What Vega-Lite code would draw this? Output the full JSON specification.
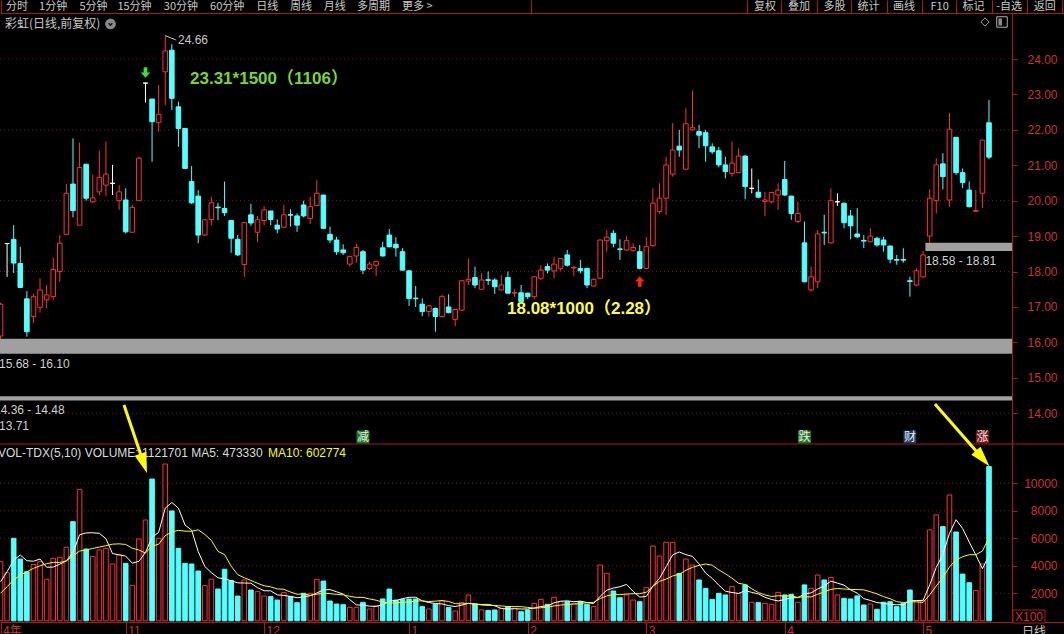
{
  "$schema": "https://vega.github.io/schema/vega-lite/v6.json",
  "width": 1064,
  "height": 609,
  "autosize": "none",
  "padding": {"left": 0, "top": 13, "right": 0, "bottom": 12},
  "background": "#000000",
  "config": {"view": {"stroke": null}, "font": "Liberation Sans"},
  "data": {"values": [{}]},
  "datasets": {
    "k": [
      {"i":0,"o":16.18,"h":17.12,"l":16.1,"c":17.08,"v":4300,"m5":2840,"m10":2000},
      {"i":1,"o":18.79,"h":18.79,"l":17.85,"c":18.79,"v":3500,"m5":3570,"m10":2480},
      {"i":2,"o":18.91,"h":19.31,"l":17.96,"c":18.24,"v":6000,"m5":4420,"m10":2967},
      {"i":3,"o":18.23,"h":18.7,"l":17.55,"c":17.55,"v":4490,"m5":4785,"m10":3330},
      {"i":4,"o":17.23,"h":17.45,"l":16.16,"c":16.3,"v":3570,"m5":4372,"m10":3570},
      {"i":5,"o":16.73,"h":17.37,"l":16.55,"c":17.29,"v":4100,"m5":4332,"m10":3815},
      {"i":6,"o":16.99,"h":17.81,"l":16.84,"c":17.48,"v":4300,"m5":4492,"m10":4000},
      {"i":7,"o":17.2,"h":17.62,"l":16.97,"c":17.34,"v":3020,"m5":3896,"m10":4150},
      {"i":8,"o":17.29,"h":18.39,"l":17.2,"c":18.06,"v":4550,"m5":3908,"m10":4250},
      {"i":9,"o":18.0,"h":19.03,"l":17.71,"c":18.8,"v":4620,"m5":4118,"m10":4245},
      {"i":10,"o":19.05,"h":20.47,"l":19.05,"c":20.21,"v":5350,"m5":4368,"m10":4350},
      {"i":11,"o":20.47,"h":21.76,"l":19.53,"c":19.72,"v":7210,"m5":4950,"m10":4721},
      {"i":12,"o":19.31,"h":21.64,"l":19.31,"c":20.94,"v":9560,"m5":6258,"m10":5077},
      {"i":13,"o":21.03,"h":21.03,"l":20.0,"c":20.07,"v":5220,"m5":6392,"m10":5150},
      {"i":14,"o":19.97,"h":20.73,"l":19.94,"c":20.08,"v":4670,"m5":6402,"m10":5260},
      {"i":15,"o":20.25,"h":21.41,"l":20.16,"c":20.66,"v":5150,"m5":6362,"m10":5365},
      {"i":16,"o":20.44,"h":21.67,"l":20.13,"c":20.75,"v":5270,"m5":5974,"m10":5462},
      {"i":17,"o":20.49,"h":21.01,"l":20.16,"c":20.49,"v":4130,"m5":4888,"m10":5573},
      {"i":18,"o":20.0,"h":20.44,"l":19.74,"c":20.25,"v":4790,"m5":4802,"m10":5597},
      {"i":19,"o":20.02,"h":20.35,"l":19.08,"c":19.12,"v":4180,"m5":4704,"m10":5553},
      {"i":20,"o":19.11,"h":19.88,"l":19.11,"c":19.81,"v":2580,"m5":4190,"m10":5276},
      {"i":21,"o":20.0,"h":21.24,"l":20.0,"c":21.2,"v":5950,"m5":4326,"m10":5150},
      {"i":22,"o":23.32,"h":23.32,"l":22.77,"c":23.32,"v":7330,"m5":4966,"m10":4927},
      {"i":23,"o":22.87,"h":22.87,"l":21.1,"c":22.23,"v":10310,"m5":6070,"m10":5436},
      {"i":24,"o":22.21,"h":23.27,"l":21.95,"c":22.44,"v":6000,"m5":6434,"m10":5569},
      {"i":25,"o":23.64,"h":24.66,"l":22.7,"c":24.23,"v":11400,"m5":8198,"m10":6194},
      {"i":26,"o":24.25,"h":24.42,"l":22.56,"c":22.89,"v":7990,"m5":8606,"m10":6466},
      {"i":27,"o":22.65,"h":22.8,"l":21.52,"c":22.04,"v":5270,"m5":8194,"m10":6580},
      {"i":28,"o":22.04,"h":22.04,"l":20.91,"c":20.91,"v":4180,"m5":6968,"m10":6519},
      {"i":29,"o":20.54,"h":20.98,"l":19.91,"c":19.94,"v":4130,"m5":6594,"m10":6514},
      {"i":30,"o":20.13,"h":20.3,"l":18.8,"c":19.03,"v":3620,"m5":5038,"m10":6618},
      {"i":31,"o":19.03,"h":19.46,"l":19.0,"c":19.46,"v":2560,"m5":3952,"m10":6279},
      {"i":32,"o":19.47,"h":20.11,"l":19.31,"c":19.94,"v":3020,"m5":3502,"m10":5848},
      {"i":33,"o":19.82,"h":19.94,"l":19.45,"c":19.8,"v":2310,"m5":3128,"m10":5048},
      {"i":34,"o":19.78,"h":20.54,"l":19.57,"c":19.66,"v":3750,"m5":3052,"m10":4823},
      {"i":35,"o":19.44,"h":19.44,"l":18.53,"c":18.94,"v":2920,"m5":2912,"m10":3975},
      {"i":36,"o":18.91,"h":19.03,"l":18.44,"c":18.47,"v":1800,"m5":2760,"m10":3356},
      {"i":37,"o":18.2,"h":19.38,"l":17.85,"c":19.38,"v":2970,"m5":2750,"m10":3126},
      {"i":38,"o":19.6,"h":19.91,"l":19.29,"c":19.37,"v":2240,"m5":2736,"m10":2932},
      {"i":39,"o":19.11,"h":19.57,"l":18.84,"c":19.46,"v":2120,"m5":2410,"m10":2731},
      {"i":40,"o":19.44,"h":19.85,"l":19.31,"c":19.74,"v":1800,"m5":2186,"m10":2549},
      {"i":41,"o":19.71,"h":19.71,"l":19.31,"c":19.47,"v":1760,"m5":2178,"m10":2469},
      {"i":42,"o":19.31,"h":19.47,"l":19.08,"c":19.2,"v":1510,"m5":1886,"m10":2318},
      {"i":43,"o":19.25,"h":19.88,"l":19.22,"c":19.6,"v":2050,"m5":1848,"m10":2292},
      {"i":44,"o":19.61,"h":19.76,"l":19.27,"c":19.59,"v":1760,"m5":1776,"m10":2093},
      {"i":45,"o":19.57,"h":19.64,"l":19.12,"c":19.31,"v":1320,"m5":1680,"m10":1933},
      {"i":46,"o":19.88,"h":20.0,"l":19.53,"c":19.57,"v":2000,"m5":1728,"m10":1953},
      {"i":47,"o":19.5,"h":20.11,"l":19.34,"c":19.83,"v":2000,"m5":1826,"m10":1856},
      {"i":48,"o":19.86,"h":20.58,"l":19.86,"c":20.21,"v":3020,"m5":2020,"m10":1934},
      {"i":49,"o":20.16,"h":20.16,"l":19.2,"c":19.22,"v":2890,"m5":2246,"m10":2011},
      {"i":50,"o":19.05,"h":19.27,"l":18.8,"c":18.89,"v":1440,"m5":2270,"m10":1975},
      {"i":51,"o":18.89,"h":18.98,"l":18.47,"c":18.56,"v":1220,"m5":2114,"m10":1921},
      {"i":52,"o":18.61,"h":18.77,"l":18.47,"c":18.53,"v":1170,"m5":1948,"m10":1887},
      {"i":53,"o":18.21,"h":18.45,"l":18.14,"c":18.42,"v":980,"m5":1540,"m10":1780},
      {"i":54,"o":18.44,"h":18.78,"l":18.25,"c":18.68,"v":980,"m5":1158,"m10":1702},
      {"i":55,"o":18.56,"h":18.61,"l":17.93,"c":18.04,"v":1340,"m5":1138,"m10":1704},
      {"i":56,"o":18.09,"h":18.28,"l":18.04,"c":18.21,"v":860,"m5":1066,"m10":1590},
      {"i":57,"o":18.18,"h":18.3,"l":17.87,"c":18.28,"v":1080,"m5":1048,"m10":1498},
      {"i":58,"o":18.67,"h":18.84,"l":18.42,"c":18.44,"v":1590,"m5":1170,"m10":1355},
      {"i":59,"o":19.03,"h":19.2,"l":18.68,"c":18.7,"v":2310,"m5":1436,"m10":1297},
      {"i":60,"o":18.77,"h":18.97,"l":18.42,"c":18.67,"v":1510,"m5":1470,"m10":1304},
      {"i":61,"o":18.56,"h":18.66,"l":18.02,"c":18.04,"v":1560,"m5":1610,"m10":1338},
      {"i":62,"o":18.02,"h":18.04,"l":17.03,"c":17.24,"v":1590,"m5":1712,"m10":1380},
      {"i":63,"o":17.25,"h":17.59,"l":17.0,"c":17.23,"v":1590,"m5":1712,"m10":1441},
      {"i":64,"o":17.08,"h":17.24,"l":16.74,"c":16.87,"v":1030,"m5":1456,"m10":1446},
      {"i":65,"o":16.87,"h":17.06,"l":16.73,"c":17.03,"v":860,"m5":1326,"m10":1398},
      {"i":66,"o":16.96,"h":16.98,"l":16.3,"c":16.73,"v":1200,"m5":1254,"m10":1432},
      {"i":67,"o":16.73,"h":17.34,"l":16.7,"c":17.29,"v":1460,"m5":1228,"m10":1470},
      {"i":68,"o":17.0,"h":17.36,"l":16.82,"c":16.84,"v":960,"m5":1102,"m10":1407},
      {"i":69,"o":16.65,"h":16.95,"l":16.46,"c":16.93,"v":710,"m5":1038,"m10":1247},
      {"i":70,"o":16.91,"h":17.76,"l":16.88,"c":17.74,"v":1340,"m5":1134,"m10":1230},
      {"i":71,"o":17.73,"h":18.37,"l":17.62,"c":17.78,"v":1880,"m5":1270,"m10":1262},
      {"i":72,"o":17.83,"h":18.14,"l":17.53,"c":17.62,"v":1220,"m5":1222,"m10":1225},
      {"i":73,"o":17.5,"h":17.95,"l":17.48,"c":17.76,"v":790,"m5":1188,"m10":1145},
      {"i":74,"o":17.77,"h":18.0,"l":17.62,"c":17.75,"v":760,"m5":1198,"m10":1118},
      {"i":75,"o":17.76,"h":17.81,"l":17.37,"c":17.57,"v":790,"m5":1088,"m10":1111},
      {"i":76,"o":17.48,"h":17.9,"l":17.46,"c":17.62,"v":910,"m5":894,"m10":1082},
      {"i":77,"o":17.83,"h":18.0,"l":17.37,"c":17.39,"v":1030,"m5":856,"m10":1039},
      {"i":78,"o":17.39,"h":17.5,"l":17.29,"c":17.41,"v":910,"m5":880,"m10":1034},
      {"i":79,"o":17.4,"h":17.62,"l":17.1,"c":17.15,"v":660,"m5":860,"m10":1029},
      {"i":80,"o":17.39,"h":17.4,"l":17.22,"c":17.29,"v":790,"m5":860,"m10":974},
      {"i":81,"o":17.29,"h":17.87,"l":17.22,"c":17.85,"v":1270,"m5":932,"m10":913},
      {"i":82,"o":17.81,"h":18.18,"l":17.76,"c":18.04,"v":1560,"m5":1038,"m10":947},
      {"i":83,"o":18.14,"h":18.23,"l":17.95,"c":18.04,"v":1200,"m5":1096,"m10":988},
      {"i":84,"o":18.02,"h":18.42,"l":17.81,"c":18.21,"v":1710,"m5":1306,"m10":1083},
      {"i":85,"o":18.09,"h":18.38,"l":18.02,"c":18.37,"v":1390,"m5":1426,"m10":1143},
      {"i":86,"o":18.47,"h":18.61,"l":18.14,"c":18.18,"v":1390,"m5":1450,"m10":1191},
      {"i":87,"o":18.1,"h":18.16,"l":17.87,"c":18.12,"v":1270,"m5":1392,"m10":1215},
      {"i":88,"o":18.09,"h":18.33,"l":17.95,"c":18.02,"v":1390,"m5":1430,"m10":1263},
      {"i":89,"o":18.09,"h":18.1,"l":17.53,"c":17.62,"v":1200,"m5":1328,"m10":1317},
      {"i":90,"o":17.59,"h":17.81,"l":17.57,"c":17.78,"v":1030,"m5":1256,"m10":1341},
      {"i":91,"o":17.81,"h":18.9,"l":17.78,"c":18.89,"v":4060,"m5":1790,"m10":1620},
      {"i":92,"o":18.87,"h":19.17,"l":18.56,"c":18.97,"v":3450,"m5":2226,"m10":1809},
      {"i":93,"o":19.08,"h":19.17,"l":18.68,"c":18.8,"v":2170,"m5":2382,"m10":1906},
      {"i":94,"o":18.64,"h":18.91,"l":18.33,"c":18.62,"v":1680,"m5":2478,"m10":1903},
      {"i":95,"o":18.61,"h":19.0,"l":18.59,"c":18.87,"v":1880,"m5":2648,"m10":1952},
      {"i":96,"o":18.6,"h":18.8,"l":18.56,"c":18.68,"v":1510,"m5":2138,"m10":1964},
      {"i":97,"o":18.56,"h":18.75,"l":18.06,"c":18.09,"v":1390,"m5":1726,"m10":1976},
      {"i":98,"o":18.09,"h":18.98,"l":18.08,"c":18.7,"v":2410,"m5":1774,"m10":2078},
      {"i":99,"o":18.73,"h":20.35,"l":18.7,"c":19.93,"v":5440,"m5":2526,"m10":2502},
      {"i":100,"o":19.69,"h":20.49,"l":19.64,"c":20.07,"v":4710,"m5":3092,"m10":2870},
      {"i":101,"o":20.07,"h":21.24,"l":19.6,"c":21.01,"v":5710,"m5":3932,"m10":3035},
      {"i":102,"o":20.75,"h":22.19,"l":20.68,"c":21.43,"v":5710,"m5":4796,"m10":3261},
      {"i":103,"o":21.54,"h":22.0,"l":21.24,"c":21.43,"v":3450,"m5":5004,"m10":3389},
      {"i":104,"o":20.89,"h":22.61,"l":20.87,"c":22.17,"v":4490,"m5":4814,"m10":3670},
      {"i":105,"o":22.0,"h":23.11,"l":21.97,"c":22.06,"v":4060,"m5":4684,"m10":3888},
      {"i":106,"o":21.95,"h":22.14,"l":21.48,"c":21.85,"v":2970,"m5":4136,"m10":4034},
      {"i":107,"o":21.92,"h":22.0,"l":21.1,"c":21.55,"v":2360,"m5":3466,"m10":4131},
      {"i":108,"o":21.52,"h":21.62,"l":21.32,"c":21.38,"v":1560,"m5":3088,"m10":4046},
      {"i":109,"o":21.41,"h":21.52,"l":20.94,"c":21.01,"v":2000,"m5":2590,"m10":3702},
      {"i":110,"o":21.01,"h":21.24,"l":20.63,"c":20.82,"v":1880,"m5":2154,"m10":3419},
      {"i":111,"o":20.77,"h":21.67,"l":20.68,"c":21.06,"v":2490,"m5":2058,"m10":3097},
      {"i":112,"o":20.79,"h":21.48,"l":20.77,"c":21.26,"v":2000,"m5":1986,"m10":2726},
      {"i":113,"o":21.26,"h":21.29,"l":20.04,"c":20.4,"v":2610,"m5":2196,"m10":2642},
      {"i":114,"o":20.35,"h":20.91,"l":20.21,"c":20.35,"v":1350,"m5":2066,"m10":2328},
      {"i":115,"o":20.24,"h":20.6,"l":20.07,"c":20.1,"v":1320,"m5":1954,"m10":2054},
      {"i":116,"o":19.98,"h":20.25,"l":19.57,"c":20.02,"v":1270,"m5":1710,"m10":1884},
      {"i":117,"o":19.97,"h":20.25,"l":19.93,"c":20.23,"v":1200,"m5":1550,"m10":1768},
      {"i":118,"o":20.16,"h":20.49,"l":19.74,"c":20.3,"v":2070,"m5":1442,"m10":1819},
      {"i":119,"o":20.6,"h":21.12,"l":20.13,"c":20.16,"v":1880,"m5":1548,"m10":1807},
      {"i":120,"o":20.13,"h":20.14,"l":19.46,"c":19.64,"v":1930,"m5":1670,"m10":1812},
      {"i":121,"o":19.41,"h":19.97,"l":19.38,"c":19.64,"v":1350,"m5":1686,"m10":1698},
      {"i":122,"o":18.81,"h":19.41,"l":17.7,"c":17.71,"v":2610,"m5":1968,"m10":1759},
      {"i":123,"o":17.48,"h":18.14,"l":17.43,"c":17.85,"v":2360,"m5":2026,"m10":1734},
      {"i":124,"o":17.71,"h":19.17,"l":17.53,"c":19.06,"v":3330,"m5":2316,"m10":1932},
      {"i":125,"o":19.11,"h":19.6,"l":18.75,"c":19.09,"v":2970,"m5":2524,"m10":2097},
      {"i":126,"o":18.81,"h":20.35,"l":18.78,"c":20.0,"v":3160,"m5":2886,"m10":2286},
      {"i":127,"o":19.97,"h":20.21,"l":19.85,"c":19.97,"v":1880,"m5":2740,"m10":2354},
      {"i":128,"o":19.93,"h":19.94,"l":19.22,"c":19.38,"v":1640,"m5":2596,"m10":2311},
      {"i":129,"o":19.57,"h":19.74,"l":18.91,"c":19.29,"v":1590,"m5":2248,"m10":2282},
      {"i":130,"o":19.06,"h":19.79,"l":18.94,"c":18.98,"v":1810,"m5":2016,"m10":2270},
      {"i":131,"o":18.88,"h":19.03,"l":18.66,"c":18.86,"v":1150,"m5":1614,"m10":2250},
      {"i":132,"o":18.84,"h":19.22,"l":18.83,"c":19.0,"v":1220,"m5":1482,"m10":2111},
      {"i":133,"o":18.94,"h":18.98,"l":18.7,"c":18.75,"v":840,"m5":1322,"m10":1959},
      {"i":134,"o":18.89,"h":18.98,"l":18.56,"c":18.75,"v":1350,"m5":1274,"m10":1761},
      {"i":135,"o":18.72,"h":18.73,"l":18.23,"c":18.35,"v":1390,"m5":1190,"m10":1603},
      {"i":136,"o":18.34,"h":18.47,"l":18.19,"c":18.32,"v":1030,"m5":1166,"m10":1390},
      {"i":137,"o":18.34,"h":18.66,"l":18.25,"c":18.32,"v":1270,"m5":1176,"m10":1329},
      {"i":138,"o":17.74,"h":17.85,"l":17.29,"c":17.72,"v":2240,"m5":1456,"m10":1389},
      {"i":139,"o":17.62,"h":18.09,"l":17.6,"c":18.02,"v":1440,"m5":1474,"m10":1374},
      {"i":140,"o":17.85,"h":18.58,"l":17.83,"c":18.47,"v":1470,"m5":1490,"m10":1340},
      {"i":141,"o":19.0,"h":20.32,"l":18.81,"c":20.07,"v":6610,"m5":2606,"m10":1886},
      {"i":142,"o":20.0,"h":21.2,"l":19.64,"c":21.01,"v":7700,"m5":3892,"m10":2534},
      {"i":143,"o":21.04,"h":21.34,"l":20.32,"c":20.68,"v":6850,"m5":4814,"m10":3135},
      {"i":144,"o":20.02,"h":22.48,"l":19.83,"c":22.02,"v":9150,"m5":6356,"m10":3915},
      {"i":145,"o":21.79,"h":21.8,"l":20.73,"c":20.79,"v":6460,"m5":7354,"m10":4422},
      {"i":146,"o":20.79,"h":20.91,"l":20.35,"c":20.51,"v":3400,"m5":6712,"m10":4659},
      {"i":147,"o":20.3,"h":20.54,"l":19.81,"c":19.83,"v":2770,"m5":5726,"m10":4809},
      {"i":148,"o":19.7,"h":20.3,"l":19.68,"c":19.72,"v":2190,"m5":4794,"m10":4804},
      {"i":149,"o":20.21,"h":21.72,"l":19.79,"c":21.71,"v":4130,"m5":3790,"m10":5073},
      {"i":150,"o":22.2,"h":22.84,"l":21.17,"c":21.23,"v":11217,"m5":4741,"m10":6048}
    ],
    "gaps": [
      {"lo":15.68,"hi":16.1,"start":-0.23,"label":"15.68 - 16.10"},
      {"lo":14.36,"hi":14.48,"start":-0.99,"label":"14.36 - 14.48"},
      {"lo":18.58,"hi":18.81,"start":140.35,"label":"18.58 - 18.81"}
    ],
    "events": [
      {"i":55,"tag":"减"},
      {"i":122,"tag":"跌"},
      {"i":138,"tag":"财"},
      {"i":149,"tag":"涨"}
    ],
    "signals": [
      {"i":22,"p":23.32,"side":"sell"},
      {"i":97,"p":18.06,"side":"buy"}
    ],
    "pointers": [
      {"x0":18.74,"v0":15695,"x1":21.74,"v1":11440},
      {"x0":141.8,"v0":15767,"x1":149.04,"v1":11804}
    ]
  },
  "resolve": {"scale": {"y": "independent"}, "axis": {"x": "independent", "y": "independent"}},
  "layer": [
    {
      "layer": [
        {
          "data": {"values": [{"lv":14},{"lv":16},{"lv":18},{"lv":20},{"lv":22},{"lv":24}]},
          "mark": {"type": "rule", "stroke": "#8c1010", "strokeDash": [1, 3], "strokeWidth": 1},
          "encoding": {
            "x": {"datum": -0.08, "type": "quantitative",
              "scale": {"domain": [-0.076, 161.381], "nice": false, "zero": false, "padding": 0},
              "axis": {
                "orient": "top", "title": null, "grid": false,
                "values": [2.44,7.91,14.04,20.26,27.31,34.32,40.39,45.54,50.64,56.51,63.16,115.92,121.08,126.48,131.62,137.03,142.44,147.59,152.99,158.39],
                "labelExpr": "['分时','1分钟','5分钟','15分钟','30分钟','60分钟','日线','周线','月线','多周期','更多 >','复权','叠加','多股','统计','画线','F10','标记','-自选','返回'][indexof([2.44,7.91,14.04,20.26,27.31,34.32,40.39,45.54,50.64,56.51,63.16,115.92,121.08,126.48,131.62,137.03,142.44,147.59,152.99,158.39], datum.value)]",
                "ticks": false, "tickSize": 0, "labelPadding": 6.5, "labelBaseline": "middle",
                "domain": true, "domainColor": "#b01818", "domainWidth": 1,
                "labelFont": "Noto Sans CJK SC", "labelFontSize": 11,
                "labelColor": {"condition": {"test": "datum.label == '日线'", "value": "#5ce6f0"}, "value": "#c8c8c8"},
                "labelOverlap": false, "labelFlush": false, "labelBound": false
              }
            },
            "x2": {"datum": 153.49},
            "y": {"field": "lv", "type": "quantitative", "title": null,
              "scale": {"domain": [8.106, 25.299], "nice": false, "zero": false, "padding": 0},
              "axis": {
                "orient": "right", "offset": -52, "title": null, "grid": false,
                "values": [14,15,16,17,18,19,20,21,22,23,24], "format": ".2f",
                "labelAlign": "right", "labelBaseline": "middle", "labelPadding": 40,
                "tickSize": 5, "tickColor": "#b01818", "domainColor": "#b01818",
                "labelColor": "#cc3333", "labelFont": "Liberation Sans", "labelFontSize": 12,
                "labelOverlap": false, "labelFlush": false
              }
            }
          }
        },
        {
          "data": {"name": "gaps"},
          "mark": {"type": "rect", "fill": "#a0a0a0"},
          "encoding": {
            "x": {"field": "start", "type": "quantitative", "title": null},
            "x2": {"datum": 153.49},
            "y": {"field": "lo", "type": "quantitative", "title": null},
            "y2": {"field": "hi"}
          }
        },
        {
          "data": {"name": "gaps"},
          "mark": {"type": "text", "align": "left", "baseline": "top", "dy": 5, "fontSize": 12, "font": "Liberation Sans", "fill": "#d0d0d0"},
          "encoding": {
            "x": {"field": "start", "type": "quantitative", "title": null},
            "y": {"field": "lo", "type": "quantitative", "title": null},
            "text": {"field": "label"}
          }
        },
        {
          "mark": {"type": "text", "align": "left", "baseline": "middle", "dy": 2.5, "fontSize": 12, "font": "Liberation Sans", "fill": "#d0d0d0", "text": "13.71"},
          "encoding": {"x": {"datum": -0.23}, "y": {"datum": 13.71}}
        },
        {
          "mark": {"type": "rule", "stroke": "#b01818", "strokeWidth": 1},
          "encoding": {"x": {"datum": -1}, "x2": {"datum": 162}, "y": {"datum": 13.131}}
        },
        {
          "data": {"name": "k"},
          "mark": {"type": "rule", "strokeWidth": 1},
          "encoding": {
            "x": {"field": "i", "type": "quantitative", "title": null},
            "y": {"field": "l", "type": "quantitative", "title": null},
            "y2": {"field": "h"},
            "stroke": {"condition": [{"test": "datum.c > datum.o", "value": "#ff3232"}, {"test": "datum.c < datum.o", "value": "#54ffff"}], "value": "#ffffff"}
          }
        },
        {
          "data": {"name": "k"},
          "mark": {"type": "bar", "width": 4.6, "strokeWidth": 1},
          "encoding": {
            "x": {"field": "i", "type": "quantitative", "title": null},
            "y": {"field": "o", "type": "quantitative", "title": null},
            "y2": {"field": "c"},
            "fill": {"condition": {"test": "datum.c > datum.o", "value": "#000000"}, "value": "#54ffff"},
            "stroke": {"condition": [{"test": "datum.c > datum.o", "value": "#ff3232"}, {"test": "datum.c < datum.o", "value": "#54ffff"}], "value": "#ffffff"}
          }
        },
        {
          "data": {"name": "signals"},
          "transform": [{"filter": "datum.side == 'sell'"}],
          "mark": {"type": "point", "shape": "M-0.35,-1H0.35V0H0.9L0,1L-0.9,0H-0.35Z", "filled": true, "fill": "#33e633", "strokeWidth": 0, "size": 110, "opacity": 1, "yOffset": -10.5},
          "encoding": {"x": {"field": "i", "type": "quantitative", "title": null}, "y": {"field": "p", "type": "quantitative", "title": null}}
        },
        {
          "data": {"name": "signals"},
          "transform": [{"filter": "datum.side == 'buy'"}],
          "mark": {"type": "point", "shape": "M-0.35,1H0.35V0H0.9L0,-1L-0.9,0H-0.35Z", "filled": true, "fill": "#ff2020", "strokeWidth": 0, "size": 110, "opacity": 1, "yOffset": 12},
          "encoding": {"x": {"field": "i", "type": "quantitative", "title": null}, "y": {"field": "p", "type": "quantitative", "title": null}}
        },
        {
          "mark": {"type": "text", "align": "left", "baseline": "middle", "fontSize": 17, "fontWeight": "bold", "font": "Liberation Sans, Noto Sans CJK SC", "fill": "#7cd62a", "text": "23.31*1500（1106）"},
          "encoding": {"x": {"datum": 28.76}, "y": {"datum": 23.436}}
        },
        {
          "mark": {"type": "text", "align": "left", "baseline": "middle", "fontSize": 17, "fontWeight": "bold", "font": "Liberation Sans, Noto Sans CJK SC", "fill": "#ffff3c", "text": "18.08*1000（2.28）"},
          "encoding": {"x": {"datum": 76.86}, "y": {"datum": 16.942}}
        },
        {
          "mark": {"type": "rule", "stroke": "#c8c8c8", "strokeWidth": 1},
          "encoding": {"x": {"datum": 25}, "y": {"datum": 24.66}, "x2": {"datum": 26.6}, "y2": {"datum": 24.54}}
        },
        {
          "mark": {"type": "text", "align": "left", "baseline": "middle", "fontSize": 12, "font": "Liberation Sans", "fill": "#c8c8c8", "text": "24.66"},
          "encoding": {"x": {"datum": 26.93}, "y": {"datum": 24.537}}
        },
        {
          "mark": {"type": "text", "align": "left", "baseline": "middle", "fontSize": 12, "font": "Noto Sans CJK SC", "fill": "#c8c8c8", "text": "彩虹(日线,前复权)"},
          "encoding": {"x": {"datum": 0.68}, "y": {"datum": 24.989}}
        },
        {
          "mark": {"type": "point", "shape": "circle", "filled": true, "fill": "#8a8a8a", "size": 115, "opacity": 1},
          "encoding": {"x": {"datum": 16.69}, "y": {"datum": 24.989}}
        },
        {
          "mark": {"type": "point", "shape": "M-0.6,-0.25L0,0.35L0.6,-0.25", "filled": false, "stroke": "#1a1a1a", "strokeWidth": 1.5, "size": 40, "opacity": 1},
          "encoding": {"x": {"datum": 16.69}, "y": {"datum": 24.989}}
        },
        {
          "mark": {"type": "point", "shape": "diamond", "filled": false, "stroke": "#a0a0a0", "strokeWidth": 1, "size": 70, "opacity": 1},
          "encoding": {"x": {"datum": 149.39}, "y": {"datum": 25.045}}
        },
        {
          "mark": {"type": "point", "shape": "square", "filled": false, "stroke": "#b0b0b0", "strokeWidth": 1, "size": 110, "opacity": 1},
          "encoding": {"x": {"datum": 151.97}, "y": {"datum": 25.045}}
        },
        {
          "mark": {"type": "point", "shape": "M-1,-1H0V1H-1Z", "filled": true, "fill": "#8a8a8a", "size": 50, "opacity": 1},
          "encoding": {"x": {"datum": 151.97}, "y": {"datum": 25.045}}
        },
        {
          "data": {"name": "events"},
          "mark": {"type": "point", "shape": "square", "filled": true, "size": 169, "opacity": 1},
          "encoding": {
            "x": {"field": "i", "type": "quantitative", "title": null},
            "y": {"datum": 13.33},
            "fill": {"field": "tag", "type": "nominal", "legend": null,
              "scale": {"domain": ["减", "跌", "财", "涨"], "range": ["#1c7a1c", "#1c7a1c", "#1c3c6a", "#7c1616"]}}
          }
        },
        {
          "data": {"name": "events"},
          "mark": {"type": "text", "align": "center", "baseline": "middle", "fontSize": 12, "font": "Noto Sans CJK SC", "fill": "#ececec"},
          "encoding": {
            "x": {"field": "i", "type": "quantitative", "title": null},
            "y": {"datum": 13.33},
            "text": {"field": "tag"}
          }
        }
      ]
    },
    {
      "layer": [
        {
          "data": {"values": [{"lv":2000},{"lv":4000},{"lv":6000},{"lv":8000},{"lv":10000}]},
          "mark": {"type": "rule", "stroke": "#8c1010", "strokeDash": [1, 3], "strokeWidth": 1},
          "encoding": {
            "x": {"datum": -0.08, "type": "quantitative",
              "scale": {"domain": [-0.076, 161.381], "nice": false, "zero": false, "padding": 0},
              "axis": {
                "orient": "bottom", "title": null, "grid": false,
                "values": [0, 19, 40, 62, 80, 98, 119, 140],
                "labelExpr": "['4年','11','12','1','2','3','4','5'][indexof([0,19,40,62,80,98,119,140], datum.value)]",
                "tickSize": 12, "tickColor": "#b01818", "domainColor": "#b01818",
                "labelColor": "#cc3333", "labelFont": "Liberation Sans, Noto Sans CJK SC", "labelFontSize": 12,
                "labelAlign": "left", "labelBaseline": "top", "labelPadding": -9, "labelOffset": 2,
                "labelOverlap": false, "labelFlush": false, "labelBound": false
              }
            },
            "x2": {"datum": 153.49},
            "y": {"field": "lv", "type": "quantitative", "title": null,
              "scale": {"domain": [-87, 44204], "nice": false, "zero": false, "padding": 0},
              "axis": {
                "orient": "right", "offset": -52, "title": null, "grid": false,
                "values": [2000, 4000, 6000, 8000, 10000], "format": "d",
                "labelAlign": "right", "labelBaseline": "middle", "labelPadding": 40,
                "tickSize": 5, "tickColor": "#b01818", "domain": false,
                "labelColor": "#cc3333", "labelFont": "Liberation Sans", "labelFontSize": 12,
                "labelOverlap": false, "labelFlush": false
              }
            }
          }
        },
        {
          "data": {"name": "k"},
          "mark": {"type": "bar", "width": 4.6, "strokeWidth": 1},
          "encoding": {
            "x": {"field": "i", "type": "quantitative", "title": null},
            "y": {"field": "v", "type": "quantitative", "title": null},
            "y2": {"datum": 0},
            "fill": {"condition": {"test": "datum.c >= datum.o", "value": "#000000"}, "value": "#54ffff"},
            "stroke": {"condition": {"test": "datum.c >= datum.o", "value": "#ff3232"}, "value": "#54ffff"}
          }
        },
        {
          "data": {"name": "k"},
          "mark": {"type": "line", "stroke": "#ffffff", "strokeWidth": 1},
          "encoding": {
            "x": {"field": "i", "type": "quantitative", "title": null},
            "y": {"field": "m5", "type": "quantitative", "title": null}
          }
        },
        {
          "data": {"name": "k"},
          "mark": {"type": "line", "stroke": "#ffff00", "strokeWidth": 1},
          "encoding": {
            "x": {"field": "i", "type": "quantitative", "title": null},
            "y": {"field": "m10", "type": "quantitative", "title": null}
          }
        },
        {
          "mark": {"type": "text", "align": "left", "baseline": "middle", "fontSize": 12, "font": "Liberation Sans", "fill": "#dcdcdc", "text": "VOL-TDX(5,10)  VOLUME:  1121701  MA5: 473330"},
          "encoding": {"x": {"datum": -0.38}, "y": {"datum": 12204}}
        },
        {
          "mark": {"type": "text", "align": "left", "baseline": "middle", "fontSize": 12, "font": "Liberation Sans", "fill": "#ffff00", "text": "MA10: 602774"},
          "encoding": {"x": {"datum": 40.59}, "y": {"datum": 12204}}
        },
        {
          "data": {"name": "pointers"},
          "mark": {"type": "rule", "stroke": "#ffff00", "strokeWidth": 3},
          "encoding": {
            "x": {"field": "x0", "type": "quantitative", "title": null},
            "y": {"field": "v0", "type": "quantitative", "title": null},
            "x2": {"field": "x1"},
            "y2": {"field": "v1"}
          }
        },
        {
          "mark": {"type": "point", "shape": "M-0.6,-1L0.6,-1L0,1Z", "filled": true, "fill": "#ffff00", "strokeWidth": 0, "size": 420, "opacity": 1, "angle": -18.7},
          "encoding": {"x": {"datum": 21.74}, "y": {"datum": 11440}}
        },
        {
          "mark": {"type": "point", "shape": "M-0.6,-1L0.6,-1L0,1Z", "filled": true, "fill": "#ffff00", "strokeWidth": 0, "size": 420, "opacity": 1, "angle": -41.2},
          "encoding": {"x": {"datum": 149.04}, "y": {"datum": 11804}}
        },
        {
          "mark": {"type": "rect", "fill": "#000000", "stroke": "#b01818", "strokeWidth": 1},
          "encoding": {"x": {"datum": 153.64}, "x2": {"datum": 158.5}, "y": {"datum": 785}, "y2": {"datum": -160}}
        },
        {
          "mark": {"type": "text", "align": "center", "baseline": "middle", "fontSize": 12, "font": "Liberation Sans", "fill": "#cc3333", "text": "X100"},
          "encoding": {"x": {"datum": 156.07}, "y": {"datum": 313}}
        },
        {
          "mark": {"type": "text", "align": "center", "baseline": "top", "fontSize": 12, "font": "Noto Sans CJK SC", "fill": "#c8c8c8", "text": "日线"},
          "encoding": {"x": {"datum": 156.83}, "y": {"datum": -451}}
        }
      ]
    },
    {
      "mark": {"type": "rule", "opacity": 0},
      "encoding": {
        "x": {"datum": 0, "type": "quantitative",
          "scale": {"domain": [-0.076, 161.381], "nice": false, "zero": false, "padding": 0},
          "axis": {
            "orient": "top", "title": null, "grid": false, "labels": false, "domain": false,
            "ticks": true, "tickSize": 13, "tickColor": "#b01818",
            "values": [0.15, 80.5, 113.35, 118.5, 123.9, 129.06, 134.46, 139.76, 145.01, 150.42, 155.72, 161.08]
          }
        }
      }
    }
  ]
}
